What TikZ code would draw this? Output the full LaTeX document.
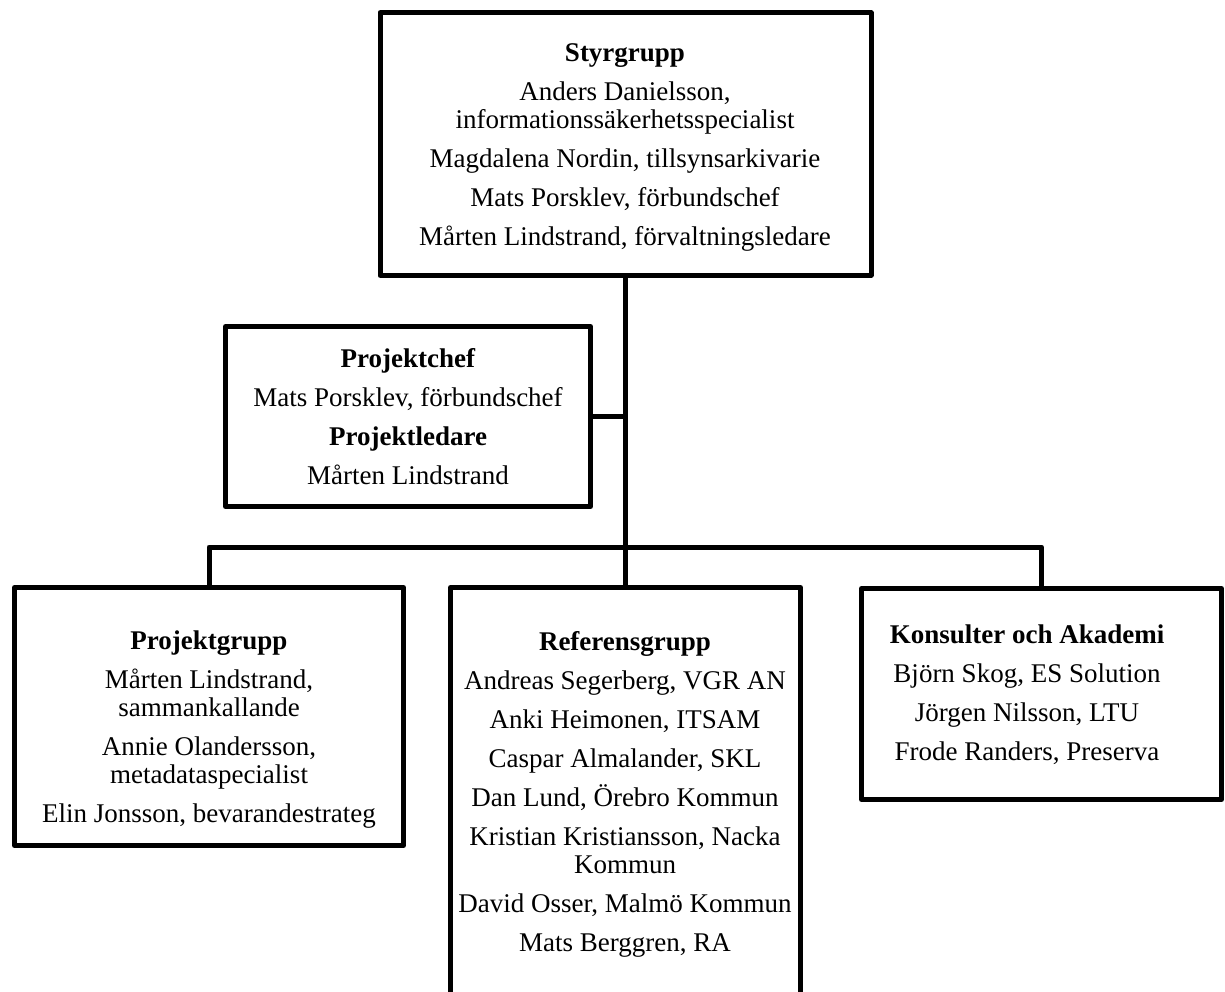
\documentclass[tikz,border=0pt]{standalone}
\usepackage{fontspec}
\setmainfont{Liberation Serif}
\begin{document}
\begin{tikzpicture}[x=1pt,y=-1pt,
  box/.style={draw,line width=5pt,line join=round,rectangle,inner sep=0pt},
  wire/.style={line width=5pt},
  txt/.style={align=center,inner sep=0pt,font=\fontsize{27}{28}\selectfont}]
\useasboundingbox (0,0) rectangle (1225,992);
\clip (0,0) rectangle (1225,992);
% boxes
\node[box,minimum width=491pt,minimum height=262.5pt] (top) at (625.5,144) {};
\node[box,minimum width=365pt,minimum height=180pt] (pc) at (408,416.5) {};
\node[box,minimum width=389pt,minimum height=258pt] (pg) at (209,716.5) {};
\node[box,minimum width=350pt,minimum height=432pt] (ref) at (625.5,803.5) {};
\node[box,minimum width=360pt,minimum height=211pt] (ko) at (1041.5,694) {};
% connectors
\coordinate (bus) at (625,547);
\draw[wire] (top.south) -- (ref.north);
\draw[wire] (pc.east) -- (pc.east -| top.south);
\draw[wire,line join=round] (pg.north) -- (pg.north |- bus) -- (ko.north |- bus) -- (ko.north);
% texts
\node[txt] (topt) at (625,147) {\textbf{Styrgrupp}\\[11pt]
  Anders Danielsson,\\ informationssäkerhetsspecialist\\[11pt]
  Magdalena Nordin, tillsynsarkivarie\\[11pt]
  Mats Porsklev, förbundschef\\[11pt]
  Mårten Lindstrand, förvaltningsledare};
\node[txt] (pct) at (408,417) {\textbf{Projektchef}\\[11pt]
  Mats Porsklev, förbundschef\\[11pt]
  \textbf{Projektledare}\\[11pt]
  Mårten Lindstrand};
\node[txt] (pgt) at (209,730) {\textbf{Projektgrupp}\\[11pt]
  Mårten Lindstrand,\\ sammankallande\\[11pt]
  Annie Olandersson,\\ metadataspecialist\\[11pt]
  Elin Jonsson, bevarandestrateg};
\node[txt] (reft) at (625,794) {\textbf{Referensgrupp}\\[11pt]
  Andreas Segerberg, VGR AN\\[11pt]
  Anki Heimonen, ITSAM\\[11pt]
  Caspar Almalander, SKL\\[11pt]
  Dan Lund, Örebro Kommun\\[11pt]
  Kristian Kristiansson, Nacka\\ Kommun\\[11pt]
  David Osser, Malmö Kommun\\[11pt]
  Mats Berggren, RA};
\node[txt] (kot) at (1027,695) {\textbf{Konsulter och Akademi}\\[11pt]
  Björn Skog, ES Solution\\[11pt]
  Jörgen Nilsson, LTU\\[11pt]
  Frode Randers, Preserva};
\end{tikzpicture}
\end{document}
